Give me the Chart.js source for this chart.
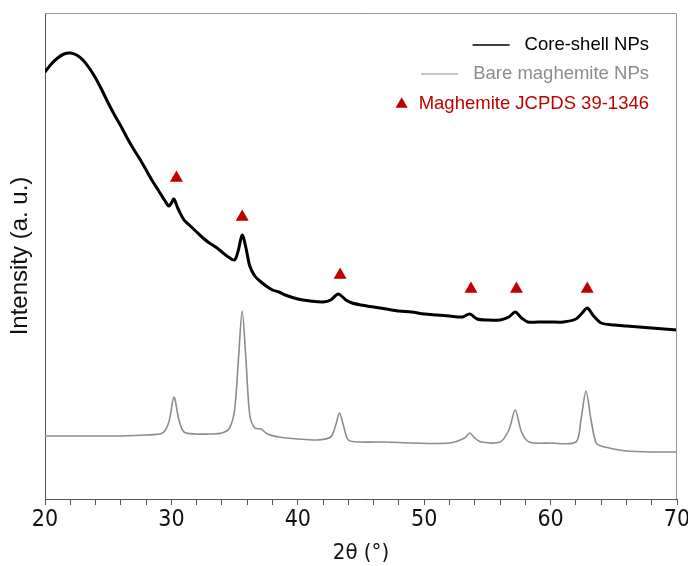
<!DOCTYPE html>
<html>
<head>
<meta charset="utf-8">
<script src="https://cdn.jsdelivr.net/npm/chart.js@4.4.1/dist/chart.umd.min.js"></script>
<style>
  html, body { margin: 0; padding: 0; background: #ffffff; }
  #wrap { position: relative; width: 688px; height: 566px; }
</style>
</head>
<body>
<div id="wrap"><canvas id="c" width="688" height="566"></canvas></div>
<script>
// 2θ values (degrees) and intensities (arbitrary units)
const coreTheta = [20.0,20.5,21.0,21.5,22.0,22.5,23.0,23.5,24.0,24.5,25.0,25.5,26.0,26.5,27.0,27.5,28.0,28.5,29.0,29.5,29.8,30.0,30.2,30.5,31.0,31.5,32.0,32.5,33.0,33.5,34.0,34.5,35.0,35.3,35.6,35.9,36.2,36.6,37.0,37.5,38.0,38.5,39.0,40.0,41.0,42.0,42.6,43.2,43.8,44.3,45.0,46.0,47.0,48.0,49.0,50.0,51.0,52.0,53.0,53.6,54.2,55.0,56.0,56.7,57.2,57.7,58.2,59.0,60.0,61.0,62.0,62.5,62.9,63.4,64.0,65.0,66.0,67.0,68.0,69.0,70.0];
const coreIntensity = [427,435,441,445,446,444,439,431,421,409,396,384,373,361,350,340,329,318,308,298,293,296,300,291,279,273,267,261,256,252,247,242,239,249,264,251,233,223,218,213,209,207,204,200,198,197,199,205,199,196,194,192,190,188,187,185,184,183,182,185,180,179,179,182,187,181,177,177,177,177,180,186,191,183,176,174,173,172,171,170,169];

const bareTheta = [20.0,22.0,24.0,26.0,28.0,29.3,29.8,30.2,30.6,31.0,32.0,33.0,34.0,34.6,35.0,35.3,35.6,35.9,36.2,36.6,37.1,37.6,38.5,40.0,41.5,42.6,43.0,43.3,43.6,44.0,45.0,47.0,49.0,52.0,53.2,53.6,54.0,54.5,56.0,56.7,57.2,57.7,58.3,60.0,62.0,62.4,62.8,63.2,63.6,64.0,65.0,66.0,68.0,70.0];
const bareIntensity = [63,63,63,63,64,66,77,102,79,67,65,65,66,71,89,139,188,139,84,71,70,65,62,60,59,62,74,86,74,59,57,57,56,56,61,66,61,57,57,69,89,67,57,56,57,79,108,79,56,53,50,48,47,47];

// JCPDS 39-1346 reference peak markers
const refTheta = [30.4, 35.6, 43.35, 53.7, 57.3, 62.9];
const refMarkY = [321, 282, 224, 210, 210, 210];

const xTicksMajor = [20, 30, 40, 50, 60, 70];

const labels = ['Core-shell NPs', 'Bare maghemite NPs', 'Maghemite JCPDS 39-1346'];
const colors = ['#000000', '#8c8c8c', '#c00000'];

const toXY = (xs, ys) => xs.map((x, i) => ({ x: x, y: ys[i] }));

const framePlugin = {
  id: 'frame',
  afterDatasetsDraw(chart) {
    const { ctx, chartArea: a } = chart;
    ctx.save();
    ctx.lineWidth = 1;
    ctx.strokeStyle = '#9a9a9a';
    ctx.beginPath();
    ctx.moveTo(a.left, a.top + 0.5);
    ctx.lineTo(a.right - 0.5, a.top + 0.5);
    ctx.lineTo(a.right - 0.5, a.bottom);
    ctx.stroke();
    ctx.restore();
  },
  afterDraw(chart) {
    const { ctx } = chart;
    ctx.save();
    ctx.textBaseline = 'middle';
    ctx.textAlign = 'right';
    const xr = 649;
    const rows = [45, 74, 104];
    ctx.font = '18.5px "Liberation Sans", Arial, sans-serif';
    for (let i = 0; i < 3; i++) {
      const y = rows[i];
      ctx.fillStyle = colors[i];
      ctx.fillText(labels[i], xr, y);
      const w = ctx.measureText(labels[i]).width;
      const xl = xr - w;
      if (i < 2) {
        ctx.strokeStyle = colors[i];
        ctx.lineWidth = i === 0 ? 1.5 : 1;
        ctx.beginPath();
        ctx.moveTo(xl - 52, y);
        ctx.lineTo(xl - 15, y);
        ctx.stroke();
      } else {
        ctx.fillStyle = colors[2];
        const cx = xl - 17, r = 7;
        ctx.beginPath();
        ctx.moveTo(cx, y - r * 0.95);
        ctx.lineTo(cx + r * 0.87, y + r * 0.55);
        ctx.lineTo(cx - r * 0.87, y + r * 0.55);
        ctx.closePath();
        ctx.fill();
      }
    }
    ctx.restore();
  }
};

new Chart(document.getElementById('c'), {
  type: 'scatter',
  data: {
    datasets: [
      {
        label: labels[1],
        data: toXY(bareTheta, bareIntensity),
        showLine: true,
        borderColor: colors[1],
        borderWidth: 1.6,
        pointRadius: 0,
        tension: 0.3,
        order: 3
      },
      {
        label: labels[0],
        data: toXY(coreTheta, coreIntensity),
        showLine: true,
        borderColor: colors[0],
        borderWidth: 3,
        pointRadius: 0,
        tension: 0.3,
        order: 2
      },
      {
        label: labels[2],
        data: toXY(refTheta, refMarkY),
        showLine: false,
        pointStyle: 'triangle',
        pointRadius: 7.5,
        backgroundColor: colors[2],
        borderColor: colors[2],
        borderWidth: 0,
        order: 1
      }
    ]
  },
  options: {
    responsive: false,
    animation: false,
    devicePixelRatio: 1,
    layout: { padding: { top: 13, right: 11, left: 6, bottom: 0 } },
    plugins: { legend: { display: false }, tooltip: { enabled: false } },
    scales: {
      x: {
        type: 'linear',
        min: 20,
        max: 70,
        afterBuildTicks(axis) {
          const t = [];
          for (let v = 20; v <= 70; v += 2) t.push({ value: v });
          axis.ticks = t;
        },
        afterFit(axis) {
          axis.height = 67;
          axis.paddingLeft = 0;
          axis.paddingRight = 0;
        },
        ticks: {
          autoSkip: false,
          maxRotation: 0,
          padding: 1,
          color: '#111',
          font: { family: '"DejaVu Sans Condensed", "DejaVu Sans", sans-serif', size: 23 },
          callback: (v) => (xTicksMajor.includes(v) ? String(v) : '')
        },
        grid: { drawOnChartArea: false, drawTicks: true, tickLength: 6, color: '#555' },
        border: { display: true, color: '#555', width: 1 },
        title: {
          display: true,
          text: '2θ (°)',
          color: '#111',
          padding: { top: 0, bottom: 0 },
          font: { family: '"DejaVu Sans Condensed", "DejaVu Sans", sans-serif', size: 22 }
        }
      },
      y: {
        type: 'linear',
        min: 0,
        max: 486,
        afterFit(axis) { axis.width = 39; },
        ticks: { display: false },
        grid: { display: false, drawTicks: false },
        border: { display: true, color: '#555', width: 1 },
        title: {
          display: true,
          text: 'Intensity (a. u.)',
          color: '#111',
          padding: { top: 0, bottom: 0 },
          font: { family: '"Liberation Sans", Arial, sans-serif', size: 24 }
        }
      }
    }
  },
  plugins: [framePlugin]
});
</script>
</body>
</html>
